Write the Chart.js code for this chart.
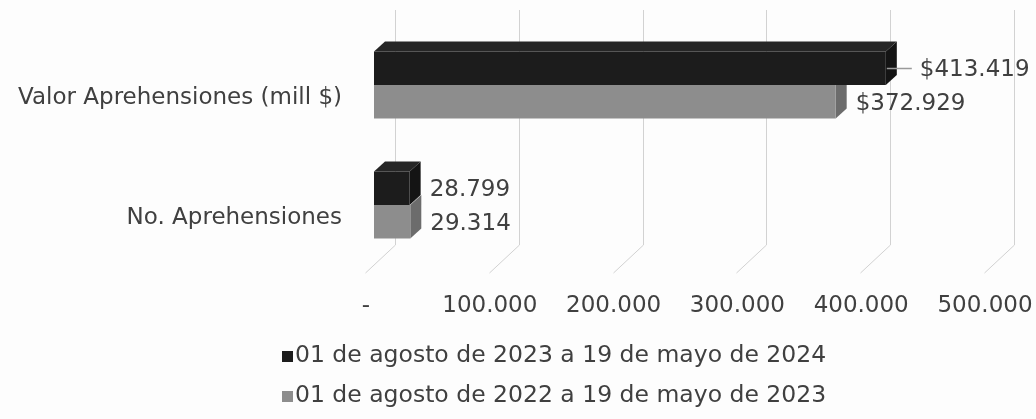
<!DOCTYPE html>
<html><head><meta charset="utf-8">
<style>html,body{margin:0;padding:0;background:#fff}#wrap{width:1036px;height:419px}</style>
<script src="https://cdn.jsdelivr.net/npm/chart.js@4.4.1/dist/chart.umd.min.js"></script>
</head><body><div id="wrap"><canvas id="c" width="1036" height="419"></canvas></div>
<script>
const categories = ['Valor Aprehensiones (mill $)', 'No. Aprehensiones'];
const seriesNames = ['01 de agosto de 2023 a 19 de mayo de 2024', '01 de agosto de 2022 a 19 de mayo de 2023'];
const series2024 = [413419, 28799];
const series2023 = [372929, 29314];
const valuePrefix = ['$', ''];
const axisTicks = [0, 100000, 200000, 300000, 400000, 500000];
const axisTickLabels = ['-', '100.000', '200.000', '300.000', '400.000', '500.000'];

const FONT_FAMILY = '"DejaVu Sans", Verdana, sans-serif';
const FONT_SIZE = 23;
const TXT = '#404040';
const frontColors = ['#1c1c1c', '#8d8d8d'];
const sideColors = ['#141414', '#6c6c6c'];
const topColors = ['#262626', '#a0a0a0'];
const DX = 11, DY = 10;

function fmt(n) { return String(n).replace(/\B(?=(\d{3})+(?!\d))/g, '.'); }

const bg = {
  id: 'bg',
  beforeDraw(chart) {
    const c = chart.ctx; c.save(); c.fillStyle = '#fdfdfd'; c.fillRect(0, 0, chart.width, chart.height); c.restore();
  }
};

const threeD = {
  id: 'threeD',
  beforeDatasetsDraw(chart) {
    const ctx = chart.ctx, xs = chart.scales.x, area = chart.chartArea;
    ctx.save();
    ctx.strokeStyle = '#d2d2d2'; ctx.lineWidth = 1;
    axisTicks.forEach(v => {
      const x = Math.round(xs.getPixelForValue(v)) + 0.5;
      const bx = x + 21, by = area.bottom - 20;
      ctx.beginPath(); ctx.moveTo(bx, 10); ctx.lineTo(bx, by); ctx.lineTo(bx - 30, by + 28); ctx.stroke();
    });
    [1, 0].forEach(di => {
      const meta = chart.getDatasetMeta(di);
      meta.data.forEach(bar => {
        const p = bar.getProps(['x', 'y', 'base', 'height'], true);
        const top = p.y - p.height / 2, bot = p.y + p.height / 2;
        ctx.fillStyle = sideColors[di];
        ctx.beginPath(); ctx.moveTo(p.x, top); ctx.lineTo(p.x + DX, top - DY); ctx.lineTo(p.x + DX, bot - DY); ctx.lineTo(p.x, bot); ctx.closePath(); ctx.fill();
        if (di === 0) {
          ctx.fillStyle = topColors[di];
          ctx.beginPath(); ctx.moveTo(p.base, top); ctx.lineTo(p.base + DX, top - DY); ctx.lineTo(p.x + DX, top - DY); ctx.lineTo(p.x, top); ctx.closePath(); ctx.fill();
        }
      });
    });
    ctx.restore();
  },
  afterDatasetsDraw(chart) {
    const ctx = chart.ctx, xs = chart.scales.x, area = chart.chartArea;
    ctx.save();
    ctx.font = FONT_SIZE + 'px ' + FONT_FAMILY;
    ctx.fillStyle = TXT; ctx.textBaseline = 'middle';
    ctx.textAlign = 'center';
    axisTicks.forEach((v, i) => {
      ctx.fillText(axisTickLabels[i], xs.getPixelForValue(v) - 8, area.bottom + 41);
    });
    ctx.textAlign = 'left';
    chart.data.datasets.forEach((ds, di) => {
      chart.getDatasetMeta(di).data.forEach((bar, i) => {
        const p = bar.getProps(['x', 'y'], true);
        const txt = valuePrefix[i] + fmt(ds.data[i]);
        let lx = p.x + DX + 9;
        if (di === 0 && i === 0) {
          lx = p.x + 34;
          ctx.strokeStyle = '#9a9a9a'; ctx.lineWidth = 1.5;
          ctx.beginPath(); ctx.moveTo(p.x + 1, Math.round(p.y) + 0.5); ctx.lineTo(lx - 8, Math.round(p.y) + 0.5); ctx.stroke();
        }
        ctx.fillText(txt, lx, p.y + 2);
      });
    });
    ctx.restore();
  },
  afterDraw(chart) {
    const ctx = chart.ctx;
    ctx.save();
    ctx.font = '23.5px ' + FONT_FAMILY;
    ctx.textBaseline = 'middle'; ctx.textAlign = 'left';
    const rows = [chart.height - 63, chart.height - 23];
    const cx = 554;
    seriesNames.forEach((name, i) => {
      const tw = ctx.measureText(name).width;
      const total = 11 + 2 + tw;
      const sx = Math.round(cx - total / 2);
      ctx.fillStyle = frontColors[i];
      ctx.fillRect(sx, Math.round(rows[i] - 5), 11, 11);
      ctx.fillStyle = TXT;
      ctx.fillText(name, sx + 13, rows[i]);
    });
    ctx.restore();
  }
};

new Chart(document.getElementById('c'), {
  type: 'bar',
  data: {
    labels: categories,
    datasets: [
      { label: seriesNames[0], data: series2024, backgroundColor: frontColors[0], categoryPercentage: 0.56, barPercentage: 1.0 },
      { label: seriesNames[1], data: series2023, backgroundColor: frontColors[1], categoryPercentage: 0.56, barPercentage: 1.0 }
    ]
  },
  options: {
    indexAxis: 'y',
    responsive: false,
    animation: false,
    devicePixelRatio: 1,
    layout: { padding: { left: 0, right: 43, top: 25, bottom: 154 } },
    plugins: { legend: { display: false }, tooltip: { enabled: false } },
    scales: {
      x: { display: false, min: 0, max: 500000, ticks: { stepSize: 100000 } },
      y: {
        grid: { display: false, drawTicks: false },
        border: { display: false },
        ticks: { color: TXT, font: { family: FONT_FAMILY, size: FONT_SIZE }, padding: 32, labelOffset: 13 },
        afterFit(s) { s.width = 374; s.paddingTop = 0; s.paddingBottom = 0; }
      }
    }
  },
  plugins: [bg, threeD]
});
</script></body></html>
